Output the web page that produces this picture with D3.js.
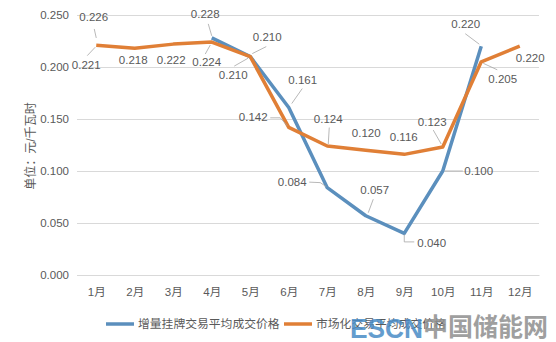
<!DOCTYPE html>
<html>
<head>
<meta charset="utf-8">
<script src="https://cdn.jsdelivr.net/npm/d3@7"></script>
<style>
  html, body { margin: 0; padding: 0; background: #fff; }
  svg { display: block; }
  text { font-family: "Liberation Sans", Arial, "Noto Sans CJK SC", sans-serif; }
</style>
</head>
<body>
<svg id="chart" width="556" height="342"></svg>
<script>
// Monthly average transaction prices (元/千瓦时)
const months = ["1月","2月","3月","4月","5月","6月","7月","8月","9月","10月","11月","12月"];
const listedPrices = [0.226, null, null, 0.228, 0.210, 0.161, 0.084, 0.057, 0.040, 0.100, 0.220, null];
const marketPrices = [0.221, 0.218, 0.222, 0.224, 0.210, 0.142, 0.124, 0.120, 0.116, 0.123, 0.205, 0.220];
const yTicks = [0, 0.05, 0.10, 0.15, 0.20, 0.25];
const seriesNames = ["增量挂牌交易平均成交价格", "市场化交易平均成交价格"];

// Label placement: text centre offset from the point, plus optional leader polyline (offsets from the point)
const listedLabelLayout = [
  {dx: -2.5, dy: -23, leader: [[-2, -11], [0, -2]]},
  null, null,
  {dx: -6.5, dy: -24, leader: [[-3.5, -14], [0, -2]]},
  {dx: 17, dy: -20, leader: [[16, -10], [2, -3]]},
  {dx: 14, dy: -28, leader: [[13.5, -19], [3, -4]]},
  {dx: -35, dy: -5.5, leader: [[-18, -5.5], [-7, -5], [-1, -1]]},
  {dx: 9, dy: -26, leader: [[7.5, -16.5], [2.5, -3]]},
  {dx: 27.5, dy: 9.5, leader: [[0, 1], [0, 8.5], [10, 8.5]]},
  {dx: 36, dy: 0, leader: [[2, 0], [20, 0]]},
  {dx: -15.5, dy: -22, leader: [[-16, -12.5], [-2, -2]]},
  null
];
const marketLabelLayout = [
  {dx: -10, dy: 20, leader: [[-9, 10.5], [-1, 2]]},
  {dx: -1.5, dy: 12, leader: null},
  {dx: -2, dy: 16, leader: null},
  {dx: -5, dy: 20, leader: [[-6.5, 12], [-1.5, 3]]},
  {dx: -17, dy: 18.5, leader: [[-16, 9.5], [-2, 1.5]]},
  {dx: -35.5, dy: -10, leader: [[-18.5, -9.5], [-8.5, -9.5], [-1.5, -1.5]]},
  {dx: 1, dy: -27, leader: [[2, -18.5], [1, -2]]},
  {dx: 0.5, dy: -17, leader: null},
  {dx: -0.5, dy: -18, leader: null},
  {dx: -10.5, dy: -25, leader: [[-9.5, -17], [-1.5, -3]]},
  {dx: 21.5, dy: 17, leader: [[16, 8], [2, 1.5]]},
  {dx: 10.5, dy: 12, leader: null}
];

const colors = {listed: "#5b8fbd", market: "#e07f36", text: "#595959", grid: "#d9d9d9", leader: "#a6a6a6"};

const svg = d3.select("#chart");
const plot = {left: 77, right: 539, top: 15, bottom: 275};

const x = d3.scalePoint().domain(months).range([plot.left, plot.right]).padding(0.5);
const y = d3.scaleLinear().domain([0, 0.25]).range([plot.bottom, plot.top]);

// Horizontal gridlines and value axis labels
const yAxis = d3.axisLeft(y).tickValues(yTicks).tickFormat(d3.format(".3f"))
  .tickSize(-(plot.right - plot.left)).tickPadding(8);
const gy = svg.append("g").attr("transform", `translate(${plot.left},0)`).call(yAxis);
gy.select(".domain").remove();
gy.selectAll(".tick line").attr("stroke", colors.grid).attr("stroke-width", 1);
gy.selectAll(".tick text").attr("fill", colors.text).attr("font-size", 11.5);

// Category axis labels
const xAxis = d3.axisBottom(x).tickSize(0).tickPadding(13);
const gx = svg.append("g").attr("transform", `translate(0,${plot.bottom})`).call(xAxis);
gx.select(".domain").attr("stroke", colors.grid);
gx.selectAll(".tick text").attr("fill", colors.text).attr("font-size", 11.5);

// Axis title
svg.append("text")
  .attr("transform", `translate(35,146) rotate(-90)`)
  .attr("text-anchor", "middle")
  .attr("font-size", 12)
  .attr("fill", colors.text)
  .text("单位：元/千瓦时");

const line = d3.line()
  .defined(d => d != null)
  .x((d, i) => x(months[i]))
  .y(d => y(d));

function drawSeries(values, color) {
  svg.append("path")
    .datum(values)
    .attr("fill", "none")
    .attr("stroke", color)
    .attr("stroke-width", 3.5)
    .attr("stroke-linejoin", "round")
    .attr("stroke-linecap", "butt")
    .attr("d", line);
}
drawSeries(listedPrices, colors.listed);
drawSeries(marketPrices, colors.market);

function drawLabels(values, layout) {
  const g = svg.append("g");
  values.forEach((v, i) => {
    const lay = layout[i];
    if (v == null || !lay) return;
    const px = x(months[i]), py = y(v);
    if (lay.leader) {
      g.append("path")
        .attr("d", d3.line()(lay.leader.map(([a, b]) => [px + a, py + b])))
        .attr("fill", "none")
        .attr("stroke", colors.leader)
        .attr("stroke-width", 0.8);
    }
    g.append("text")
      .attr("x", px + lay.dx)
      .attr("y", py + lay.dy)
      .attr("dy", "0.36em")
      .attr("text-anchor", "middle")
      .attr("font-size", 11.5)
      .attr("fill", colors.text)
      .text(d3.format(".3f")(v));
  });
}
drawLabels(listedPrices, listedLabelLayout);
drawLabels(marketPrices, marketLabelLayout);

// Legend
const legend = svg.append("g").attr("transform", "translate(0,324)");
[[106, colors.listed, seriesNames[0]], [284, colors.market, seriesNames[1]]].forEach(([lx, c, name]) => {
  legend.append("line").attr("x1", lx).attr("x2", lx + 28).attr("y1", 0).attr("y2", 0)
    .attr("stroke", c).attr("stroke-width", 3.5);
  legend.append("text").attr("x", lx + 32).attr("y", 0).attr("dy", "0.36em")
    .attr("font-size", 11.8).attr("fill", colors.text).text(name);
});

// Site mark in the lower right corner
const mark = svg.append("g").attr("opacity", 0.85);
mark.append("text").attr("x", 350).attr("y", 338)
  .attr("font-size", 27).attr("font-weight", "bold").attr("fill", "#4a8cc6")
  .attr("textLength", 73).attr("lengthAdjust", "spacingAndGlyphs")
  .text("ESCN");
mark.append("text").attr("x", 423).attr("y", 336)
  .attr("font-size", 25).attr("font-weight", "bold").attr("fill", "#8f8f8f")
  .attr("font-family", "Noto Sans CJK SC")
  .text("中国储能网");
</script>
</body>
</html>
